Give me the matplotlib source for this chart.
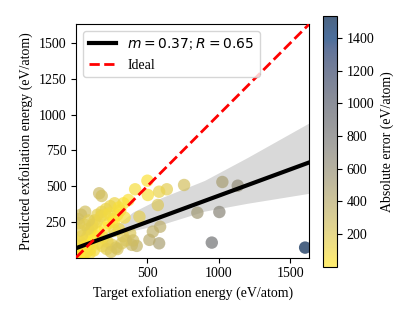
import matplotlib
matplotlib.use('Agg')
import matplotlib.pyplot as plt
import numpy as np

plt.rcParams['font.family'] = ['Liberation Serif', 'DejaVu Serif']
plt.rcParams['mathtext.fontset'] = 'dejavusans'
plt.rcParams['font.size'] = 10

# Target / predicted exfoliation energies (eV/atom)
target = [1605, 951, 1025, 1133, 850, 1004, 757, 636, 582, 500, 503, 414,
          573, 589, 582, 514, 538, 425, 391, 379, 444, 162, 180, 332, 367,
          64, 30, 45, 60, 80, 95, 110, 20, 15, 35, 50, 70, 90, 120, 140,
          160, 200, 230, 260, 290, 310, 130, 150, 180, 210, 240, 270, 100,
          75, 55, 25, 10, 40, 85, 115, 145, 175, 205, 235, 265, 300, 330,
          350, 190, 220, 250, 280, 125, 95, 65, 30, 60, 90, 155, 185, 215,
          245, 340, 400, 320, 290, 270, 300, 5, 12, 22]
predicted = [70, 105, 529, 503, 314, 319, 508, 478, 461, 538, 438, 478,
             368, 216, 100, 124, 182, 82, 89, 170, 286, 450, 431, 380, 403,
             321, 60, 90, 120, 150, 180, 210, 240, 270, 300, 30, 60, 90, 120,
             150, 180, 210, 240, 270, 300, 330, 260, 300, 320, 340, 360, 380,
             60, 40, 20, 110, 10, 150, 200, 230, 250, 290, 300, 310, 250,
             200, 150, 120, 140, 110, 90, 70, 50, 30, 80, 190, 230, 260, 100,
             80, 60, 40, 280, 120, 100, 60, 190, 350, 50, 30, 15]
abs_error = np.abs(np.array(predicted) - np.array(target))

# Linear fit and its confidence band
fit_x = [0, 1634]
fit_y = [66, 666]
band_x = [0, 100, 200, 300, 400, 600, 900, 1200, 1634]
band_lo = [45, 85, 125, 160, 190, 232, 325, 380, 450]
band_hi = [90, 125, 165, 240, 320, 420, 540, 700, 943]

lim = [0, 1634]

fig = plt.figure(figsize=(4.11, 3.29), dpi=100)
ax = fig.add_axes([0.185, 0.217, 0.5675, 0.71])
cax = fig.add_axes([0.786, 0.189, 0.034, 0.762])

ax.fill_between(band_x, band_lo, band_hi, color='k', alpha=0.15, lw=0, zorder=1)
sc = ax.scatter(target, predicted, c=abs_error, cmap='cividis_r', s=80,
                alpha=0.7, linewidths=0, zorder=2)
ax.plot(fit_x, fit_y, color='k', lw=3, zorder=3,
        label=r'$m=0.37$; $R=0.65$')
ax.plot(lim, lim, 'r--', lw=2, zorder=4, label='Ideal')

ax.set_xlim(lim)
ax.set_ylim(lim)
ax.set_xticks([500, 1000, 1500])
ax.set_yticks([250, 500, 750, 1000, 1250, 1500])
ax.set_xlabel('Target exfoliation energy (eV/atom)')
ax.set_ylabel('Predicted exfoliation energy (eV/atom)')
ax.legend(loc='upper left')

cb = fig.colorbar(sc, cax=cax)
cb.set_ticks([200, 400, 600, 800, 1000, 1200, 1400])
cb.set_label('Absolute error (eV/atom)')

fig.savefig('out.png', dpi=100)
